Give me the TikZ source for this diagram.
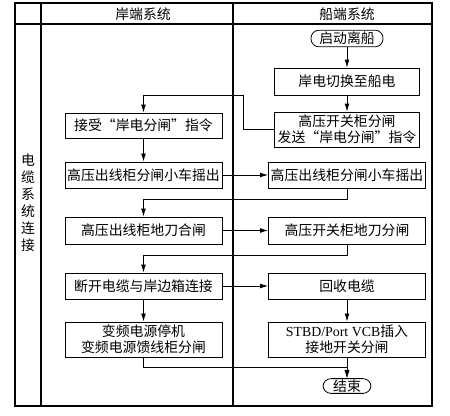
\documentclass[tikz,border=0pt]{standalone}
\usepackage{fontspec}
\setmainfont{Noto Sans CJK SC}
\newfontfamily\latinrm{Liberation Serif}
\usetikzlibrary{arrows.meta}

\tikzset{
  box/.style={draw, line width=0.6pt, inner sep=0.75pt, align=center, minimum height=19.5pt},
  term/.style={draw, line width=0.6pt, inner sep=0.75pt, rounded corners=6pt, minimum height=12.5pt},
  arr/.style={line width=0.6pt, -{Latex[length=6pt,width=3.6pt]}},
}

\begin{document}
\begin{tikzpicture}[x=0.75pt,y=0.75pt,yscale=-1,xscale=1,font=\fontsize{10.4pt}{12pt}\selectfont]
\useasboundingbox (0,0) rectangle (450,415);

%Frame [lanes]
\draw [line width=1pt] (15,3) rectangle (432,406);
\draw [line width=0.8pt] (15,24) -- (432,24);
\draw [line width=0.8pt] (41,3) -- (41,406);
\draw [line width=0.8pt] (233,3) -- (233,406);

% Text Node
\node (hshore) at (143,14) {岸端系统};
% Text Node
\node (hship) at (347,14) {船端系统};
% Text Node
\node (lane) at (28,203) [align=center, font=\fontsize{10.4pt}{12.8pt}\selectfont] {电\\缆\\系\\统\\连\\接};

%Ship side
\node (start) at (347,38.5) [term, minimum width=54pt] {启动离船};
\node (r1) at (347,81.5) [box, minimum width=108.75pt, minimum height=20.25pt] {岸电切换至船电};
\node (r2) at (347,129.5) [box, minimum width=108.75pt, minimum height=26.25pt] {高压开关柜分闸\\发送“岸电分闸”指令};
\node (r3) at (347,175) [box, minimum width=117.75pt] {高压出线柜分闸小车摇出};
\node (r4) at (347,230.5) [box, minimum width=117.75pt, minimum height=20.25pt] {高压开关柜地刀分闸};
\node (r5) at (347,286) [box, minimum width=117.75pt] {回收电缆};
\node (r6) at (347,339.5) [box, minimum width=117.75pt, minimum height=26.25pt] {{\latinrm STBD/Port VCB}插入\\接地开关分闸};
\node (end) at (347,386) [term, minimum width=36pt, minimum height=10.5pt] {结束};

%Shore side
\node (l1) at (143.5,125.5) [box, minimum width=117.75pt, minimum height=18.75pt] {接受“岸电分闸”指令};
\node (l2) at (143.5,175) [box, minimum width=117.75pt] {高压出线柜分闸小车摇出};
\node (l3) at (143.5,230.5) [box, minimum width=117.75pt, minimum height=20.25pt] {高压出线柜地刀合闸};
\node (l4) at (143.5,286) [box, minimum width=117.75pt] {断开电缆与岸边箱连接};
\node (l5) at (143.5,339.5) [box, minimum width=117.75pt, minimum height=26.25pt] {变频电源停机\\变频电源馈线柜分闸};

%Bends
\coordinate (k1) at (243,95);
\coordinate (k2) at (347,199);
\coordinate (k3) at (347,255);
\coordinate (k4) at (143.5,367);

%Connectors
\draw [arr] (start) -- (r1);
\draw [arr] (r1) -- (r2);
\draw [arr] (r2.west) -| (k1) -| (l1.north);
\draw [arr] (l1) -- (l2);
\draw [arr] (l2) -- (r3);
\draw [arr] (r3.south) -- (k2) -| (l3.north);
\draw [arr] (l3) -- (r4);
\draw [arr] (r4.south) -- (k3) -| (l4.north);
\draw [arr] (l4) -- (r5);
\draw [arr] (l4) -- (l5);
\draw [arr] (r5) -- (r6);
\draw [arr] (r6) -- (end);
\draw [arr] (l5.south) -- (k4) -| (end.north);
\end{tikzpicture}
\end{document}
